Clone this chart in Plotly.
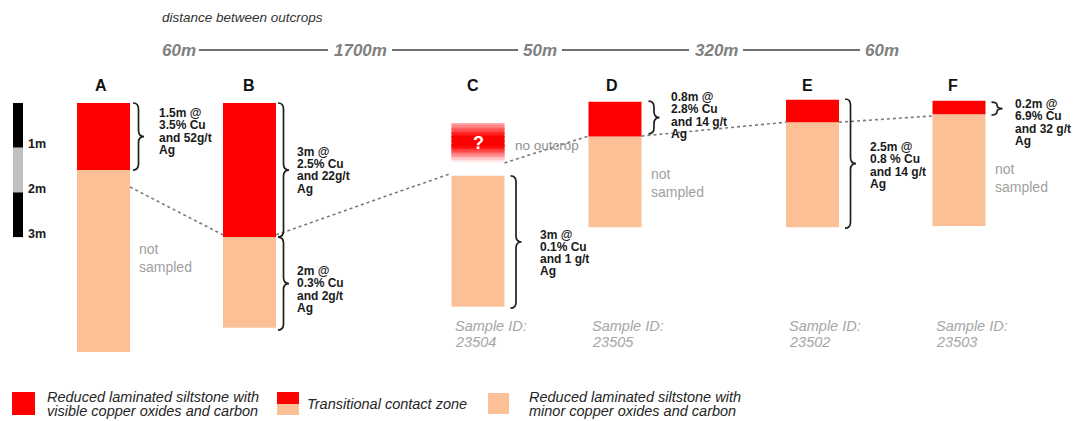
import plotly.graph_objects as go

# ---------------- data ----------------
outcrops = ["A", "B", "C", "D", "E", "F"]
top_depth_m = [0.0, 0.0, 1.63, -0.03, -0.07, -0.05]
red_thickness_m = [1.5, 3.0, 0.0, 0.78, 0.5, 0.3]
peach_thickness_m = [4.07, 2.03, 2.93, 2.03, 2.35, 2.5]
uncertain_top_m = 0.45          # outcrop C, "no outcrop" zone
uncertain_thickness_m = 0.89

contact_left_m = [None, 2.95, 1.57, 0.74, 0.43, 0.29]
contact_right_m = [1.88, 2.95, 1.34, 0.74, 0.43, None]

interval_outcrop = ["A", "B", "B", "C", "D", "E", "F"]
interval_top_m = [0.0, 0.0, 3.0, 1.63, -0.04, -0.09, -0.02]
interval_bottom_m = [1.5, 3.0, 5.08, 4.59, 0.69, 2.8, 0.27]
interval_text = [
    ["1.5m @", "3.5% Cu", "and 52g/t", "Ag"],
    ["3m @", "2.5% Cu", "and 22g/t", "Ag"],
    ["2m @", "0.3% Cu", "and 2g/t", "Ag"],
    ["3m @", "0.1% Cu", "and 1 g/t", "Ag"],
    ["0.8m @", "2.8% Cu", "and 14 g/t", "Ag"],
    ["2.5m @", "0.8 % Cu", "and 14 g/t", "Ag"],
    ["0.2m @", "6.9% Cu", "and 32 g/t", "Ag"],
]
not_sampled_outcrops = ["A", "D", "F"]
sample_outcrops = ["C", "D", "E", "F"]
sample_ids = ["23504", "23505", "23502", "23503"]
distances = ["60m", "1700m", "50m", "320m", "60m"]
scale_ticks_m = [1, 2, 3]
legend_labels = [
    ["Reduced laminated siltstone with", "visible copper oxides and carbon"],
    ["Transitional contact zone"],
    ["Reduced laminated siltstone with", "minor copper oxides and carbon"],
]

# ---------------- layout constants ----------------
W, H = 1080, 421
PX = 44.7      # pixels per metre
Y0 = 103.0     # pixel row of depth 0


def d(py):
    """pixel row -> depth (m) for decorations"""
    return (py - Y0) / PX


col_x = [103.5, 249.5, 478, 615, 812.5, 959]
col_w = 53
letter_dx = [-3, -1, -5, -3, -5, -6]
bracket_gap = [3, 2, 2, 6, 7, 6, 6]
bracket_w = 11
text_dx = [27, 19, 19, 33, 27, 29, 27]
text_dy = [-5, 0, 6, 11, -2, 2, 14]
LINE = 12.3

RED = "#ff0000"
PEACH = "#fcc096"
FONT = "Liberation Sans"

xpos = dict(zip(outcrops, col_x))

fig = go.Figure()

# peach sections
fig.add_trace(go.Bar(
    x=col_x, y=peach_thickness_m,
    base=[t + r for t, r in zip(top_depth_m, red_thickness_m)],
    width=col_w, marker=dict(color=PEACH, line=dict(width=0)),
    hoverinfo="skip"))
# red sections
fig.add_trace(go.Bar(
    x=col_x, y=red_thickness_m, base=top_depth_m,
    width=col_w, marker=dict(color=RED, line=dict(width=0)),
    hoverinfo="skip"))

# gradient "?" block for C (opaque blended slices)
N = 30
sl = uncertain_thickness_m / N
g_base, g_col = [], []
for i in range(N):
    u = (i + 0.5) / N
    if u < 0.34:
        a = 0.3 + 0.7 * (u / 0.34)
    elif u < 0.6:
        a = 1.0
    else:
        a = max(0.0, 1 - (u - 0.6) / 0.4)
    gb = int(round(255 * (1 - a)))
    g_base.append(uncertain_top_m + i * sl)
    g_col.append(f"rgb(255,{gb},{gb})")
fig.add_trace(go.Bar(
    x=[xpos["C"]] * N, y=[sl * 1.15] * N, base=g_base, width=col_w,
    marker=dict(color=g_col, line=dict(width=0)), hoverinfo="skip"))

# scale bar
fig.add_trace(go.Bar(
    x=[18, 18, 18], y=[1, 1, 1], base=[0, 1, 2], width=10,
    marker=dict(color=["#000000", "#c0c0c0", "#000000"], line=dict(width=0)),
    hoverinfo="skip"))

# dotted correlation line
lx, ly = [], []
for i in range(len(outcrops) - 1):
    lx += [col_x[i] + col_w / 2, col_x[i + 1] - col_w / 2, None]
    ly += [contact_right_m[i], contact_left_m[i + 1], None]
fig.add_trace(go.Scatter(
    x=lx, y=ly, mode="lines",
    line=dict(color="#7a7a7a", width=1.6, dash="dot"),
    hoverinfo="skip"))

shapes = []
annotations = []


def ann(x, y, text, size, color="#1a1a1a", xanchor="left", yanchor="middle",
        yshift=0):
    annotations.append(dict(
        x=x, y=y, xref="x", yref="y", text=text, showarrow=False,
        xanchor=xanchor, yanchor=yanchor, yshift=yshift, align="left",
        font=dict(family=FONT, size=size, color=color)))


# brackets + grade text
for k, oc in enumerate(interval_outcrop):
    right = xpos[oc] + col_w / 2
    x0 = right + bracket_gap[k]
    yt, yb = interval_top_m[k], interval_bottom_m[k]
    ym = (yt + yb) / 2
    xm = x0 + bracket_w / 2
    r = min(6 / PX, (yb - yt) / 4)
    path = (f"M {x0},{yt} Q {xm},{yt} {xm},{yt + r} L {xm},{ym - r} "
            f"Q {xm},{ym} {x0 + bracket_w},{ym} Q {xm},{ym} {xm},{ym + r} "
            f"L {xm},{yb - r} Q {xm},{yb} {x0},{yb}")
    shapes.append(dict(type="path", path=path, xref="x", yref="y",
                       line=dict(color="#1f1f1f", width=1.7)))
    lines = interval_text[k]
    n = len(lines)
    for j, t in enumerate(lines):
        ann(right + text_dx[k], ym + text_dy[k] / PX, f"<b>{t}</b>", 12,
            yshift=-(j - (n - 1) / 2) * LINE)

# column letters
for i, oc in enumerate(outcrops):
    ann(col_x[i] + letter_dx[i], d(85), f"<b>{oc}</b>", 16, "#111111",
        xanchor="center")

# not sampled
ns_y = {"A": 258, "D": 183, "F": 178}
for oc in not_sampled_outcrops:
    xr = xpos[oc] + col_w / 2
    ann(xr + 7, d(ns_y[oc]), "not<br>sampled", 14, "#a0a0a0")

# no outcrop + ?
ann(xpos["C"] + col_w / 2 + 8, d(145), "no outcrop", 13.5, "#8f8f8f")
ann(xpos["C"], uncertain_top_m + uncertain_thickness_m / 2, "<b>?</b>", 18,
    "#ffffff", xanchor="center")

# sample IDs
for oc, sid in zip(sample_outcrops, sample_ids):
    xl = xpos[oc] - col_w / 2 + 1
    ann(xl, d(326), "<i>Sample ID:</i>", 14.5, "#a6a6a6")
    ann(xl, d(342), f"<i>{sid}</i>", 14.5, "#a6a6a6")

# scale labels
for t in scale_ticks_m:
    ann(26, t - 0.08, f"<b>{t}m</b>", 12.5, "#1a1a1a")

# top: distance between outcrops
ann(160, d(17), "<i>distance between outcrops</i>", 13.5, "#333333")
dist_cx = [179, 360, 540, 716, 882]
for cx, t in zip(dist_cx, distances):
    ann(cx, d(50), f"<b><i>{t}</i></b>", 17, "#808080", xanchor="center")
for (a, b) in [(199, 328), (392, 518), (562, 689), (743, 860)]:
    shapes.append(dict(type="line", xref="x", yref="y", x0=a, x1=b,
                       y0=d(50), y1=d(50),
                       line=dict(color="#404040", width=1.5)))


# legend
def rect(x0, x1, y0, y1, color):
    shapes.append(dict(type="rect", xref="x", yref="y", x0=x0, x1=x1,
                       y0=d(y0), y1=d(y1), fillcolor=color,
                       line=dict(width=0)))


rect(12, 35, 392, 415, RED)
rect(277, 299, 392, 404, RED)
rect(277, 299, 404, 415, PEACH)
rect(488, 509, 393, 414, PEACH)
leg_x = [45, 305, 527]
for lx0, labels in zip(leg_x, legend_labels):
    if len(labels) == 1:
        ann(lx0, d(404), f"<i>{labels[0]}</i>", 14.5, "#262626")
    else:
        ann(lx0, d(397), f"<i>{labels[0]}</i>", 14.5, "#262626")
        ann(lx0, d(410.5), f"<i>{labels[1]}</i>", 14.5, "#262626")

fig.update_layout(
    width=W, height=H, margin=dict(l=0, r=0, t=0, b=0),
    paper_bgcolor="white", plot_bgcolor="white",
    barmode="overlay", showlegend=False,
    xaxis=dict(range=[0, W], visible=False, fixedrange=True),
    yaxis=dict(range=[d(H), d(0)], visible=False, fixedrange=True),
    shapes=shapes, annotations=annotations,
)

fig.write_html(
    "out.html",
    config={"displayModeBar": False},
    post_script="document.body.style.margin='0';"
                "document.body.style.overflow='hidden';",
)
